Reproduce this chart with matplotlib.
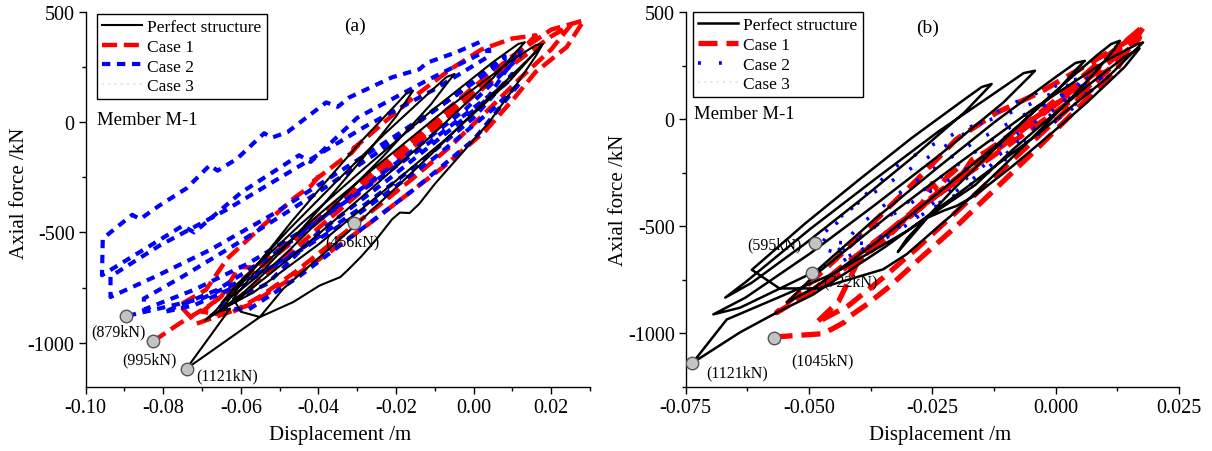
import numpy as np
import matplotlib
matplotlib.use("Agg")
import matplotlib.pyplot as plt
from matplotlib.ticker import MultipleLocator, FixedLocator

plt.rcParams['font.family'] = ['Liberation Serif', 'DejaVu Serif']

# ---------------- data: panel (a) ----------------
perfect_a = [
    [-0.0740, -1118], [-0.0628, -846], [-0.0660, -860],
    [-0.0599, -782], [-0.0477, -584], [-0.0355, -371], [-0.0232, -153], [-0.0110, 81],
    [-0.0065, 185], [-0.0049, 219], [-0.0070, 205],
    [-0.0110, 141], [-0.0232, -57], [-0.0355, -271], [-0.0477, -488], [-0.0599, -722],
    [-0.0665, -855], [-0.0693, -899],
    [-0.0611, -809], [-0.0446, -577], [-0.0281, -328], [-0.0116, -73], [0.0050, 201],
    [0.0110, 320], [0.0132, 363], [0.0115, 355],
    [0.0050, 273], [-0.0116, 41], [-0.0281, -208], [-0.0446, -463], [-0.0611, -737],
    [-0.0650, -820], [-0.0600, -760],
    [-0.0556, -697], [-0.0467, -532], [-0.0378, -354], [-0.0289, -171], [-0.0200, 26],
    [-0.0165, 120], [-0.0156, 143], [-0.0175, 128],
    [-0.0200, 80], [-0.0289, -85], [-0.0378, -264], [-0.0467, -446], [-0.0556, -643],
    [-0.0620, -780], [-0.0650, -850],
    [-0.0567, -772], [-0.0401, -556], [-0.0236, -318], [-0.0070, -74], [0.0096, 193],
    [0.0160, 320], [0.0179, 355], [0.0160, 350],
    [0.0096, 277], [-0.0070, 60], [-0.0236, -178], [-0.0401, -422], [-0.0567, -688],
    [-0.0620, -800], [-0.0600, -860], [-0.0551, -884],
    [-0.0465, -816], [-0.0397, -741], [-0.0344, -703], [-0.0325, -672], [-0.0290, -610],
    [-0.0250, -530], [-0.0210, -440], [-0.0190, -410], [-0.0165, -412], [-0.0140, -370],
    [-0.0100, -280], [-0.0040, -160], [0.0040, 0], [0.0110, 170], [0.0160, 300],
    [0.0175, 345],
    [0.0120, 250], [0.0020, 80], [-0.0100, -130], [-0.0220, -330], [-0.0300, -460],
    [-0.0362, -559], [-0.0422, -650], [-0.0491, -756], [-0.0551, -884], [-0.0740, -1118],
]

case1_a = [
    [-0.0827, -995], [-0.0758, -913], [-0.0680, -830], [-0.0600, -720], [-0.0500, -575],
    [-0.0400, -430], [-0.0300, -285], [-0.0200, -140], [-0.0100, 10], [0.0000, 160],
    [0.0100, 300], [0.0200, 420], [0.0284, 462],
    [0.0240, 341], [0.0160, 228], [0.0105, 110], [0.0030, -40], [-0.0079, -204],
    [-0.0180, -340], [-0.0276, -469], [-0.0380, -600], [-0.0480, -720], [-0.0580, -830],
    [-0.0714, -914],
    [-0.0758, -830], [-0.0690, -760], [-0.0635, -619], [-0.0550, -480], [-0.0460, -340],
    [-0.0420, -290], [-0.0400, -248], [-0.0415, -270], [-0.0370, -210], [-0.0340, -170],
    [-0.0315, -140], [-0.0294, -97], [-0.0310, -120], [-0.0270, -60], [-0.0225, 8],
    [-0.0150, 120], [-0.0060, 240], [0.0020, 330], [0.0100, 380], [0.0160, 394],
    [0.0120, 320], [0.0050, 210], [-0.0050, 60], [-0.0150, -90], [-0.0250, -240],
    [-0.0350, -380], [-0.0450, -520], [-0.0550, -660], [-0.0605, -657],
    [-0.0650, -790], [-0.0700, -860],
    [-0.0660, -870], [-0.0580, -760], [-0.0490, -620], [-0.0400, -480], [-0.0300, -330],
    [-0.0200, -180], [-0.0100, -30], [0.0000, 120], [0.0100, 260], [0.0200, 390],
    [0.0250, 440],
    [0.0200, 330], [0.0120, 200], [0.0040, 60], [-0.0060, -110], [-0.0160, -260],
    [-0.0260, -400], [-0.0360, -540], [-0.0460, -680], [-0.0550, -790], [-0.0620, -860],
]

case2_a = [
    [0.0015, 363], [-0.0045, 317], [-0.0120, 270], [-0.0140, 240], [-0.0210, 204],
    [-0.0320, 113], [-0.0350, 70], [-0.0380, 90], [-0.0480, -45], [-0.0520, -70],
    [-0.0540, -50], [-0.0610, -166], [-0.0660, -220], [-0.0680, -195], [-0.0740, -300],
    [-0.0810, -378], [-0.0860, -440], [-0.0880, -420], [-0.0956, -528],
    [-0.0958, -694], [-0.0880, -610], [-0.0750, -470], [-0.0720, -500], [-0.0600, -320],
    [-0.0450, -150], [-0.0420, -180], [-0.0300, 20], [-0.0120, 190], [0.0040, 330],
    [0.0040, 300], [-0.0100, 150], [-0.0280, -20], [-0.0450, -200], [-0.0640, -400],
    [-0.0810, -560], [-0.0936, -700],
    [-0.0936, -793], [-0.0820, -700], [-0.0680, -580], [-0.0520, -420], [-0.0360, -240],
    [-0.0200, -60], [-0.0040, 130], [0.0080, 300],
    [0.0080, 280], [-0.0080, 80], [-0.0250, -140], [-0.0420, -340], [-0.0600, -540],
    [-0.0750, -700], [-0.0850, -800],
    [-0.0850, -850], [-0.0720, -760], [-0.0580, -640], [-0.0420, -470], [-0.0280, -300],
    [-0.0120, -100], [0.0040, 120], [0.0120, 330],
    [0.0120, 300], [-0.0020, 60], [-0.0180, -160], [-0.0350, -380], [-0.0500, -580],
    [-0.0660, -760], [-0.0798, -861],
    [-0.0720, -830], [-0.0580, -720], [-0.0450, -580], [-0.0300, -400], [-0.0150, -200],
    [0.0000, 20], [0.0100, 220],
    [0.0100, 200], [-0.0050, -20], [-0.0220, -260], [-0.0400, -500], [-0.0531, -732],
    [-0.0664, -846],
    [-0.0580, -850], [-0.0450, -700], [-0.0300, -500], [-0.0150, -300], [0.0000, -80],
    [0.0120, 180],
    [0.0050, 60], [-0.0100, -160], [-0.0300, -420], [-0.0500, -640], [-0.0700, -800],
    [-0.0896, -880],
]

case3_a = [[-0.0300, -420], [-0.0150, -200], [0.0000, 20], [0.0110, 180]]

markers_a = [[-0.0896, -880], [-0.0827, -994], [-0.0740, -1121], [-0.0309, -456]]
labels_a = ['(879kN)', '(995kN)', '(1121kN)', '(456kN)']
label_pos_a = [[-0.0915, -951], [-0.0835, -1077], [-0.0635, -1151], [-0.0312, -539]]

# ---------------- data: panel (b) ----------------
perfect_b = [
    [-0.0736, -1137], [-0.0640, -995], [-0.0566, -903],
    [-0.0492, -819], [-0.0343, -592], [-0.0195, -343], [-0.0046, -87], [0.0103, 190],
    [0.0160, 320], [0.0177, 358], [0.0165, 350],
    [0.0103, 274], [-0.0046, 47], [-0.0195, -203], [-0.0343, -458], [-0.0492, -735],
    [-0.0545, -857],
    [-0.0485, -780], [-0.0364, -575], [-0.0243, -353], [-0.0122, -124], [-0.0001, 123],
    [0.0045, 240], [0.0059, 272], [0.0040, 262],
    [-0.0001, 195], [-0.0122, -10], [-0.0243, -233], [-0.0364, -461], [-0.0485, -708],
    [-0.0640, -880], [-0.0694, -911],
    [-0.0629, -833], [-0.0498, -627], [-0.0368, -403], [-0.0238, -172], [-0.0107, 76],
    [-0.0055, 195], [-0.0042, 226], [-0.0065, 215],
    [-0.0107, 148], [-0.0238, -58], [-0.0368, -283], [-0.0498, -513], [-0.0629, -761],
    [-0.0670, -833],
    [-0.0616, -763], [-0.0508, -581], [-0.0400, -385], [-0.0292, -182], [-0.0184, 34],
    [-0.0140, 140], [-0.0130, 164], [-0.0150, 150],
    [-0.0184, 94], [-0.0292, -88], [-0.0400, -285], [-0.0508, -487], [-0.0616, -703],
    [-0.0560, -790], [-0.0480, -790], [-0.0350, -701],
    [-0.0302, -630], [-0.0206, -438], [-0.0110, -228], [-0.0014, -11], [0.0082, 223],
    [0.0120, 330], [0.0130, 366], [0.0112, 350],
    [0.0082, 295], [-0.0014, 103], [-0.0110, -108], [-0.0206, -324], [-0.0302, -558],
    [-0.0320, -620], [-0.0260, -460], [-0.0225, -425], [-0.0201, -405],
    [-0.0163, -355], [-0.0088, -220], [-0.0012, -73], [0.0064, 79], [0.0139, 242],
    [0.0170, 330],
    [0.0139, 290], [0.0064, 155], [-0.0012, 7], [-0.0088, -144], [-0.0163, -307],
    [-0.0300, -520], [-0.0450, -720], [-0.0560, -830], [-0.0667, -935], [-0.0736, -1137],
]

case1_b = [
    [-0.0572, -1017], [-0.0471, -1001], [-0.0430, -950], [-0.0417, -919], [-0.0380, -860],
    [-0.0336, -779], [-0.0270, -640], [-0.0201, -499], [-0.0120, -320], [-0.0039, -140],
    [0.0040, 40], [0.0124, 234], [0.0180, 438],
    [0.0140, 360], [0.0080, 250], [0.0000, 90], [-0.0080, -60], [-0.0160, -200],
    [-0.0240, -350], [-0.0320, -500], [-0.0400, -660], [-0.0440, -850], [-0.0485, -950],
    [-0.0420, -870], [-0.0350, -740], [-0.0280, -600], [-0.0200, -430], [-0.0120, -260],
    [-0.0040, -90], [0.0040, 80], [0.0120, 260], [0.0170, 380],
    [0.0100, 250], [0.0020, 110], [-0.0060, -30], [-0.0140, -170], [-0.0220, -310],
    [-0.0300, -450], [-0.0380, -600], [-0.0460, -760], [-0.0566, -903],
    [-0.0505, -779], [-0.0430, -620], [-0.0363, -467], [-0.0280, -280], [-0.0201, -93],
    [-0.0120, 30], [-0.0032, 125], [0.0083, 280], [0.0150, 370],
    [0.0090, 250], [0.0000, 70], [-0.0100, -110], [-0.0180, -250], [-0.0260, -390],
    [-0.0340, -530], [-0.0420, -680], [-0.0480, -780],
    [-0.0420, -700], [-0.0340, -550], [-0.0290, -430], [-0.0270, -390], [-0.0250, -300],
    [-0.0240, -330], [-0.0220, -270], [-0.0200, -230], [-0.0190, -260], [-0.0170, -190],
    [-0.0140, -150], [-0.0060, -20], [0.0020, 100], [0.0100, 220],
    [0.0040, 100], [-0.0040, -30], [-0.0120, -160], [-0.0200, -290], [-0.0280, -420],
    [-0.0360, -560], [-0.0440, -700], [-0.0520, -850],
]

case2_b = [
    [-0.0471, -686], [-0.0400, -560], [-0.0336, -450], [-0.0250, -300], [-0.0150, -130],
    [-0.0050, 30], [0.0050, 150], [0.0117, 218],
    [0.0050, 90], [-0.0003, -15], [-0.0100, -160], [-0.0187, -312], [-0.0260, -430],
    [-0.0336, -545], [-0.0420, -640], [-0.0480, -600],
    [-0.0450, -499], [-0.0380, -340], [-0.0322, -218], [-0.0250, -120], [-0.0187, -47],
    [-0.0072, 47], [0.0036, 171], [0.0080, 200],
    [0.0020, 80], [-0.0060, -40], [-0.0140, -170], [-0.0220, -290], [-0.0300, -400],
    [-0.0380, -520], [-0.0450, -640],
    [-0.0400, -500], [-0.0320, -350], [-0.0240, -220], [-0.0160, -100], [-0.0080, 0],
    [0.0000, 100], [0.0090, 190],
    [0.0040, 60], [-0.0040, -80], [-0.0120, -220], [-0.0200, -350], [-0.0290, -470],
    [-0.0380, -580], [-0.0488, -573],
    [-0.0420, -420], [-0.0340, -300], [-0.0260, -180], [-0.0180, -60], [-0.0100, 60],
    [-0.0020, 140], [0.0060, 200],
    [0.0000, 40], [-0.0080, -110], [-0.0160, -240], [-0.0240, -380], [-0.0320, -500],
    [-0.0400, -620], [-0.0460, -700],
]

case3_b = [[-0.0350, -330], [-0.0200, -120], [-0.0050, 80]]

markers_b = [[-0.0738, -1140], [-0.0572, -1023], [-0.0487, -580], [-0.0494, -720]]
labels_b = ['(1121kN)', '(1045kN)', '(595kN)', '(722kN)']
label_pos_b = [[-0.0646, -1183], [-0.0472, -1127], [-0.0571, -585], [-0.0417, -759]]

series_names = ['Perfect structure', 'Case 1', 'Case 2', 'Case 3']

# ---------------- drawing ----------------
fig = plt.figure(figsize=(12.12, 4.52), dpi=100)
ax_a = fig.add_axes([0.0707, 0.1423, 0.4161, 0.8289])
ax_b = fig.add_axes([0.5658, 0.1416, 0.4070, 0.8296])

GREEN = '#d6efd6'


def draw(ax, perf, c1, c2, c3, mk, labs, lpos, style):
    perf = np.array(perf); c1 = np.array(c1); c2 = np.array(c2); c3 = np.array(c3)
    h0, = ax.plot(perf[:, 0], perf[:, 1], color='black', lw=style['blw'], zorder=3,
                  label=series_names[0], solid_joinstyle='round')
    h1, = ax.plot(c1[:, 0], c1[:, 1], color='#ff0000', lw=style['rlw'],
                  linestyle=(0, style['rdash']), zorder=2, label=series_names[1])
    h2, = ax.plot(c2[:, 0], c2[:, 1], color='#0000ff', lw=style['bluelw'],
                  linestyle=(0, style['bdash']), zorder=2.5, label=series_names[2])
    h3, = ax.plot(c3[:, 0], c3[:, 1], color=GREEN, lw=1.5,
                  linestyle=(0, (1, 2)), zorder=1.5, label=series_names[3])
    mk = np.array(mk)
    ax.plot(mk[:, 0], mk[:, 1], 'o', ms=9, mfc='#c3c3c3', mec='#555555', mew=1.0,
            zorder=5, linestyle='none')
    for t, p in zip(labs, lpos):
        ax.text(p[0], p[1], t, fontsize=11.5, ha='center', va='center', zorder=4)
    for s in ['top', 'right']:
        ax.spines[s].set_visible(False)
    for s in ['left', 'bottom']:
        ax.spines[s].set_linewidth(1.0)
    ax.tick_params(axis='both', which='major', direction='out', length=5, width=1,
                   labelsize=14.5, pad=3)
    ax.tick_params(axis='both', which='minor', direction='out', length=3, width=1)
    leg = ax.legend(handles=[h0, h1, h2, h3], loc='upper left',
                    bbox_to_anchor=style['legpos'], borderaxespad=0, fontsize=12.5,
                    frameon=True, fancybox=False, edgecolor='black', framealpha=1,
                    handlelength=2.3, handletextpad=0.3, borderpad=0.3, labelspacing=0.2)
    leg.get_frame().set_linewidth(1.0)
    leg.set_zorder(10)
    ax.set_xlabel('Displacement /m', fontsize=15)
    ax.set_ylabel('Axial force /kN', fontsize=15)


draw(ax_a, perfect_a, case1_a, case2_a, case3_a, markers_a, labels_a, label_pos_a,
     dict(blw=1.5, rlw=3.2, rdash=(3.4, 1.5), bluelw=3.0, bdash=(2.0, 1.6),
          legpos=(0.0224, 0.995)))
draw(ax_b, perfect_b, case1_b, case2_b, case3_b, markers_b, labels_b, label_pos_b,
     dict(blw=1.8, rlw=3.8, rdash=(3.6, 1.7), bluelw=2.6, bdash=(0.8, 5.0),
          legpos=(0.0148, 1.0)))

ax_a.set_xlim(-0.10, 0.03)
ax_a.set_ylim(-1200, 500)
ax_a.xaxis.set_major_locator(FixedLocator([-0.10, -0.08, -0.06, -0.04, -0.02, 0.00, 0.02]))
ax_a.xaxis.set_minor_locator(MultipleLocator(0.01))
ax_a.set_xticklabels(['-0.10', '-0.08', '-0.06', '-0.04', '-0.02', '0.00', '0.02'])
ax_a.yaxis.set_major_locator(FixedLocator([-1000, -500, 0, 500]))
ax_a.yaxis.set_minor_locator(MultipleLocator(250))
ax_a.set_yticklabels(['-1000', '-500', '0', '500'])
ax_a.text(-0.0307, 441, '(a)', fontsize=14, ha='center', va='center')
ax_a.text(-0.0972, 13, 'Member M-1', fontsize=13.5, ha='left', va='center')
ax_a.yaxis.set_label_coords(-0.112, 0.52)
ax_a.xaxis.set_label_coords(0.504, -0.102)

ax_b.set_xlim(-0.075, 0.025)
ax_b.set_ylim(-1250, 500)
ax_b.xaxis.set_major_locator(FixedLocator([-0.075, -0.05, -0.025, 0.0, 0.025]))
ax_b.xaxis.set_minor_locator(MultipleLocator(0.0125))
ax_b.set_xticklabels(['-0.075', '-0.050', '-0.025', '0.000', '0.025'])
ax_b.yaxis.set_major_locator(FixedLocator([-1000, -500, 0, 500]))
ax_b.yaxis.set_minor_locator(MultipleLocator(250))
ax_b.set_yticklabels(['-1000', '-500', '0', '500'])
ax_b.text(-0.026, 430, '(b)', fontsize=14, ha='center', va='center')
ax_b.text(-0.0734, 26, 'Member M-1', fontsize=13.5, ha='left', va='center')
ax_b.yaxis.set_label_coords(-0.118, 0.5)
ax_b.xaxis.set_label_coords(0.515, -0.102)

fig.savefig('out.png', dpi=100)
